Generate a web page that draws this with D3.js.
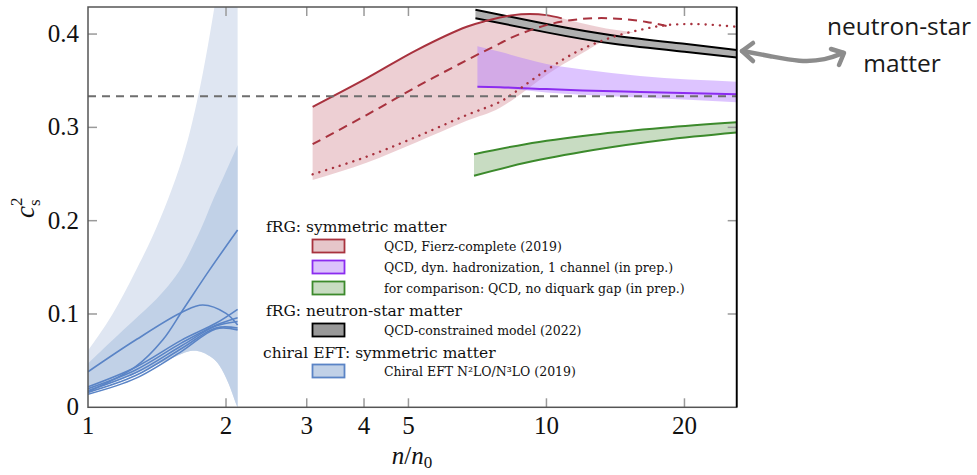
<!DOCTYPE html>
<html>
<head>
<meta charset="utf-8">
<script src="https://cdn.jsdelivr.net/npm/d3@7"></script>
<style>
  body { margin: 0; background: #fff; }
  svg { display: block; }
</style>
</head>
<body>
<div class="chart-holder"></div>
<script>
// ---- data ----
var xTicks = [1, 2, 3, 4, 5, 10, 20];
var yTicks = [0, 0.1, 0.2, 0.3, 0.4];
var conformal = 1 / 3;

// chiral EFT bands: [n, lower, inner upper, outer upper]
var eftBand = [
  [1.0, 0.015, 0.047, 0.061], [1.13, 0.027, 0.072, 0.097], [1.27, 0.036, 0.095, 0.146],
  [1.38, 0.044, 0.111, 0.181], [1.5, 0.051, 0.130, 0.224], [1.61, 0.058, 0.151, 0.266],
  [1.69, 0.0614, 0.172, 0.305], [1.78, 0.0596, 0.195, 0.356], [1.87, 0.053, 0.222, 0.416],
  [1.93, 0.047, 0.236, 0.46], [2.03, 0.026, 0.260, 0.53], [2.10, 0.004, 0.276, 0.58],
  [2.12, 0.0, 0.281, 0.60]
];
// chiral EFT individual curves: [n, c2]
var eftLines = [
  [[1.0, 0.0167], [1.27, 0.0435], [1.455, 0.0721], [1.61, 0.1043], [1.84, 0.147], [2.12, 0.19]],
  [[1.0, 0.0381], [1.27, 0.0721], [1.61, 0.1024], [1.78, 0.1096], [2.0, 0.1007], [2.12, 0.0882]],
  [[1.0, 0.022], [1.27, 0.043], [1.6, 0.072], [1.9, 0.090], [2.12, 0.105]],
  [[1.0, 0.020], [1.27, 0.040], [1.6, 0.069], [1.9, 0.088], [2.12, 0.096]],
  [[1.0, 0.018], [1.27, 0.037], [1.6, 0.066], [1.9, 0.087], [2.12, 0.092]],
  [[1.0, 0.016], [1.27, 0.034], [1.6, 0.063], [1.9, 0.085], [2.12, 0.085]],
  [[1.0, 0.014], [1.27, 0.031], [1.6, 0.060], [1.9, 0.084], [2.12, 0.083]]
];

// QCD Fierz-complete: band [n, lo, hi] and three curves
var redBand = [
  [3.09, 0.2435, 0.322], [4.05, 0.262, 0.3525], [5.21, 0.284, 0.3828], [6.70, 0.307, 0.4078],
  [7.92, 0.321, 0.416], [8.46, 0.330, 0.4203], [9.2, 0.343, 0.4214], [10.0, 0.356, 0.4203],
  [11.83, 0.378, 0.412], [13.5, 0.394, 0.406], [15.5, 0.402, 0.402]
];
var redSolid = [[3.09, 0.322], [4.05, 0.3525], [5.21, 0.3828], [6.70, 0.4078], [7.41, 0.4142],
  [8.46, 0.4203], [9.2, 0.4214], [10.0, 0.4203], [10.8, 0.4168]];
var redDashed = [[3.09, 0.282], [4.05, 0.3132], [5.21, 0.3435], [6.70, 0.372], [7.92, 0.390],
  [8.46, 0.397], [10.0, 0.4096], [11.83, 0.416], [13.99, 0.4168], [16.54, 0.413], [18.3, 0.4085]];
var redDotted = [[3.09, 0.2497], [4.05, 0.2685], [5.21, 0.29], [6.70, 0.3132], [7.92, 0.3274],
  [8.46, 0.3364], [10.0, 0.3614], [11.83, 0.3828], [13.99, 0.397], [16.54, 0.406], [18.3, 0.4096],
  [21.2, 0.4107], [26.0, 0.4078]];

// dyn. hadronization: [n, fill lo, line, fill hi]
var purpleBand = [[7.07, 0.3435, 0.3435, 0.387], [7.92, 0.342, 0.343, 0.381], [10.0, 0.3375, 0.341, 0.368],
  [12.0, 0.335, 0.3395, 0.362], [16.0, 0.332, 0.338, 0.355], [26.0, 0.327, 0.3354, 0.349]];

// no diquark gap: [n, lo, hi]
var greenBand = [[6.95, 0.2482, 0.2713], [9.0, 0.262, 0.282], [12.65, 0.2757, 0.292],
  [18.0, 0.2865, 0.2995], [26.0, 0.2945, 0.3054]];

// neutron-star matter: [n, lo, hi]
var blackBand = [[7.0, 0.417, 0.426], [10.0, 0.4018, 0.4107], [14.0, 0.3895, 0.3985],
  [20.0, 0.381, 0.3895], [26.0, 0.375, 0.3828]];

var legendTitles = ["fRG: symmetric matter", "fRG: neutron-star matter", "chiral EFT: symmetric matter"];
var legendEntries = [
  {label: "QCD, Fierz-complete (2019)", stroke: "#a8323e", fill: "#e6c6ca"},
  {label: "QCD, dyn. hadronization, 1 channel (in prep.)", stroke: "#8b2cf0", fill: "#dcc3fc"},
  {label: "for comparison: QCD, no diquark gap (in prep.)", stroke: "#3c8a2c", fill: "#c8dcc2"},
  {label: "QCD-constrained model (2022)", stroke: "#000", fill: "#999"},
  {label: "Chiral EFT N²LO/N³LO (2019)", stroke: "#5a84c6", fill: "#c1d1e7"}
];

var arrowPts = [[742, 51], [770, 56], [800, 62], [826, 60], [843, 53]];

// ---- chart ----
var W = 977, H = 475;
var margin = {top: 7, right: 240.3, bottom: 67.7, left: 88};
var plotW = W - margin.left - margin.right;
var plotH = H - margin.top - margin.bottom;
var serif = "'Liberation Serif', 'Times New Roman', serif";
var legSerif = "'DejaVu Serif', serif";

var svg = d3.select(".chart-holder").append("svg").attr("width", W).attr("height", H);

var x = d3.scaleLog().domain([1, 26]).range([margin.left, margin.left + plotW]);
var y = d3.scaleLinear().domain([0, 0.429]).range([margin.top + plotH, margin.top]);

svg.append("clipPath").attr("id", "plot-clip")
  .append("rect").attr("x", margin.left).attr("y", margin.top).attr("width", plotW).attr("height", plotH);

var g = svg.append("g").attr("clip-path", "url(#plot-clip)");

function area(lo, hi, curve) {
  return d3.area().x(function(d) { return x(d[0]); })
    .y0(function(d) { return y(d[lo]); }).y1(function(d) { return y(d[hi]); })
    .curve(curve || d3.curveMonotoneX);
}
function line(col, curve) {
  return d3.line().x(function(d) { return x(d[0]); }).y(function(d) { return y(d[col]); })
    .curve(curve || d3.curveMonotoneX);
}
var smooth = d3.line().x(function(d) { return x(d[0]); }).y(function(d) { return y(d[1]); })
  .curve(d3.curveCatmullRom.alpha(0.5));

// chiral EFT
g.append("path").datum(eftBand).attr("d", area(1, 3, d3.curveBasis)).attr("fill", "#dfe6f2");
g.append("path").datum(eftBand).attr("d", area(1, 2, d3.curveBasis)).attr("fill", "#c1d1e7");
g.selectAll(".eft-line").data(eftLines).enter().append("path")
  .attr("class", "eft-line").attr("d", smooth)
  .attr("fill", "none").attr("stroke", "#5a84c6").attr("stroke-width", 1.6);

// red fill, purple, green, black
g.append("path").datum(redBand).attr("d", area(1, 2)).attr("fill", "#c4606c").attr("fill-opacity", 0.3);
g.append("path").datum(purpleBand).attr("d", area(1, 3)).attr("fill", "#b47dff").attr("fill-opacity", 0.45);
g.append("path").datum(purpleBand).attr("d", line(2)).attr("fill", "none")
  .attr("stroke", "#8b2cf0").attr("stroke-width", 2);

g.append("path").datum(greenBand).attr("d", area(1, 2)).attr("fill", "#c8dcc2");
[1, 2].forEach(function(c) {
  g.append("path").datum(greenBand).attr("d", line(c)).attr("fill", "none")
    .attr("stroke", "#3c8a2c").attr("stroke-width", 2);
});

g.append("path").datum(blackBand).attr("d", area(1, 2, d3.curveNatural)).attr("fill", "#b0b0b0");
[1, 2].forEach(function(c) {
  g.append("path").datum(blackBand).attr("d", line(c, d3.curveNatural)).attr("fill", "none")
    .attr("stroke", "#000").attr("stroke-width", 2);
});

// red curves
g.append("path").datum(redSolid).attr("d", smooth).attr("fill", "none")
  .attr("stroke", "#a8323e").attr("stroke-width", 2);
g.append("path").datum(redDashed).attr("d", smooth).attr("fill", "none")
  .attr("stroke", "#a8323e").attr("stroke-width", 2).attr("stroke-dasharray", "9,6");
g.append("path").datum(redDotted).attr("d", smooth).attr("fill", "none")
  .attr("stroke", "#a8323e").attr("stroke-width", 2.4).attr("stroke-linecap", "round")
  .attr("stroke-dasharray", "0.1,7");

// conformal limit
g.append("line").attr("x1", x(1)).attr("x2", x(26)).attr("y1", y(conformal)).attr("y2", y(conformal))
  .attr("stroke", "#6e6e6e").attr("stroke-width", 1.8).attr("stroke-dasharray", "8,6");

// ticks (inward, all sides)
var tk = svg.append("g").attr("stroke", "#9a9a9a").attr("stroke-width", 1.5);
xTicks.forEach(function(t) {
  if (t === 1) return;
  tk.append("line").attr("x1", x(t)).attr("x2", x(t)).attr("y1", y(0)).attr("y2", y(0) - 9);
  tk.append("line").attr("x1", x(t)).attr("x2", x(t)).attr("y1", margin.top).attr("y2", margin.top + 9);
});
yTicks.forEach(function(t) {
  if (t === 0) return;
  tk.append("line").attr("x1", x(1)).attr("x2", x(1) + 9).attr("y1", y(t)).attr("y2", y(t));
  tk.append("line").attr("x1", x(26)).attr("x2", x(26) - 9).attr("y1", y(t)).attr("y2", y(t));
});

// frame
svg.append("rect").attr("x", margin.left).attr("y", margin.top).attr("width", plotW).attr("height", plotH)
  .attr("fill", "none").attr("stroke", "#555").attr("stroke-width", 1.5);
svg.append("line").attr("x1", x(26)).attr("x2", x(26)).attr("y1", margin.top).attr("y2", y(0))
  .attr("stroke", "#000").attr("stroke-width", 1.8);

// tick labels
function serifText(sel, size) {
  return sel.attr("font-family", serif).attr("font-size", size).attr("fill", "#111");
}
serifText(svg.selectAll(".xl").data(xTicks).enter().append("text"), 25)
  .attr("x", function(d) { return x(d); }).attr("y", y(0) + 27)
  .attr("text-anchor", "middle").text(function(d) { return d; });
serifText(svg.selectAll(".yl").data(yTicks).enter().append("text"), 25)
  .attr("x", margin.left - 9).attr("y", function(d) { return y(d) + 8; })
  .attr("text-anchor", "end").text(function(d) { return d === 0 ? "0" : d.toFixed(1); });

// axis titles
var xt = serifText(svg.append("text"), 25).attr("x", 412).attr("y", 464).attr("text-anchor", "middle");
xt.append("tspan").attr("font-style", "italic").text("n");
xt.append("tspan").text("/");
xt.append("tspan").attr("font-style", "italic").text("n");
xt.append("tspan").attr("font-size", 17).attr("dy", 4).text("0");

var yt = serifText(svg.append("text"), 27).attr("transform", "translate(34,218) rotate(-90)");
yt.append("tspan").attr("font-style", "italic").text("c");
yt.append("tspan").attr("font-size", 17).attr("dy", -12).text("2");
yt.append("tspan").attr("font-size", 17).attr("dx", -8.5).attr("dy", 18).text("s");

// legend
var legend = svg.append("g").attr("class", "legend");
var titleY = [232, 316, 358];
var titleX = [266, 266, 263];
var entryY = [246, 267, 288, 330, 371];
legendTitles.forEach(function(t, i) {
  legend.append("text").attr("x", titleX[i]).attr("y", titleY[i])
    .attr("font-family", legSerif).attr("font-size", 15.5).attr("fill", "#111").text(t);
});
legendEntries.forEach(function(e, i) {
  legend.append("rect").attr("x", 312.5).attr("y", entryY[i] - 6.5).attr("width", 32).attr("height", 13)
    .attr("fill", e.fill).attr("stroke", e.stroke).attr("stroke-width", 1.8);
  legend.append("text").attr("x", 384).attr("y", entryY[i] + 4.5)
    .attr("font-family", legSerif).attr("font-size", 12.5).attr("fill", "#111").text(e.label);
});

// annotation
svg.append("path").datum(arrowPts)
  .attr("d", d3.line().curve(d3.curveBasis))
  .attr("fill", "none").attr("stroke", "#8c8c8c").attr("stroke-width", 4.5).attr("stroke-linecap", "round");
var heads = [[[753, 43], [742, 51], [753, 61]], [[831, 49], [844, 53], [839, 65]]];
heads.forEach(function(h) {
  svg.append("path").attr("d", d3.line()(h)).attr("fill", "none").attr("stroke", "#8c8c8c")
    .attr("stroke-width", 4.5).attr("stroke-linecap", "round").attr("stroke-linejoin", "round");
});
svg.append("text").attr("x", 899).attr("y", 35).attr("text-anchor", "middle")
  .attr("font-family", "'Open Sans', sans-serif").attr("font-size", 24.5).attr("fill", "#1a1a1a")
  .text("neutron-star");
svg.append("text").attr("x", 902).attr("y", 72).attr("text-anchor", "middle")
  .attr("font-family", "'Open Sans', sans-serif").attr("font-size", 24.5).attr("fill", "#1a1a1a")
  .text("matter");
</script>
</body>
</html>
